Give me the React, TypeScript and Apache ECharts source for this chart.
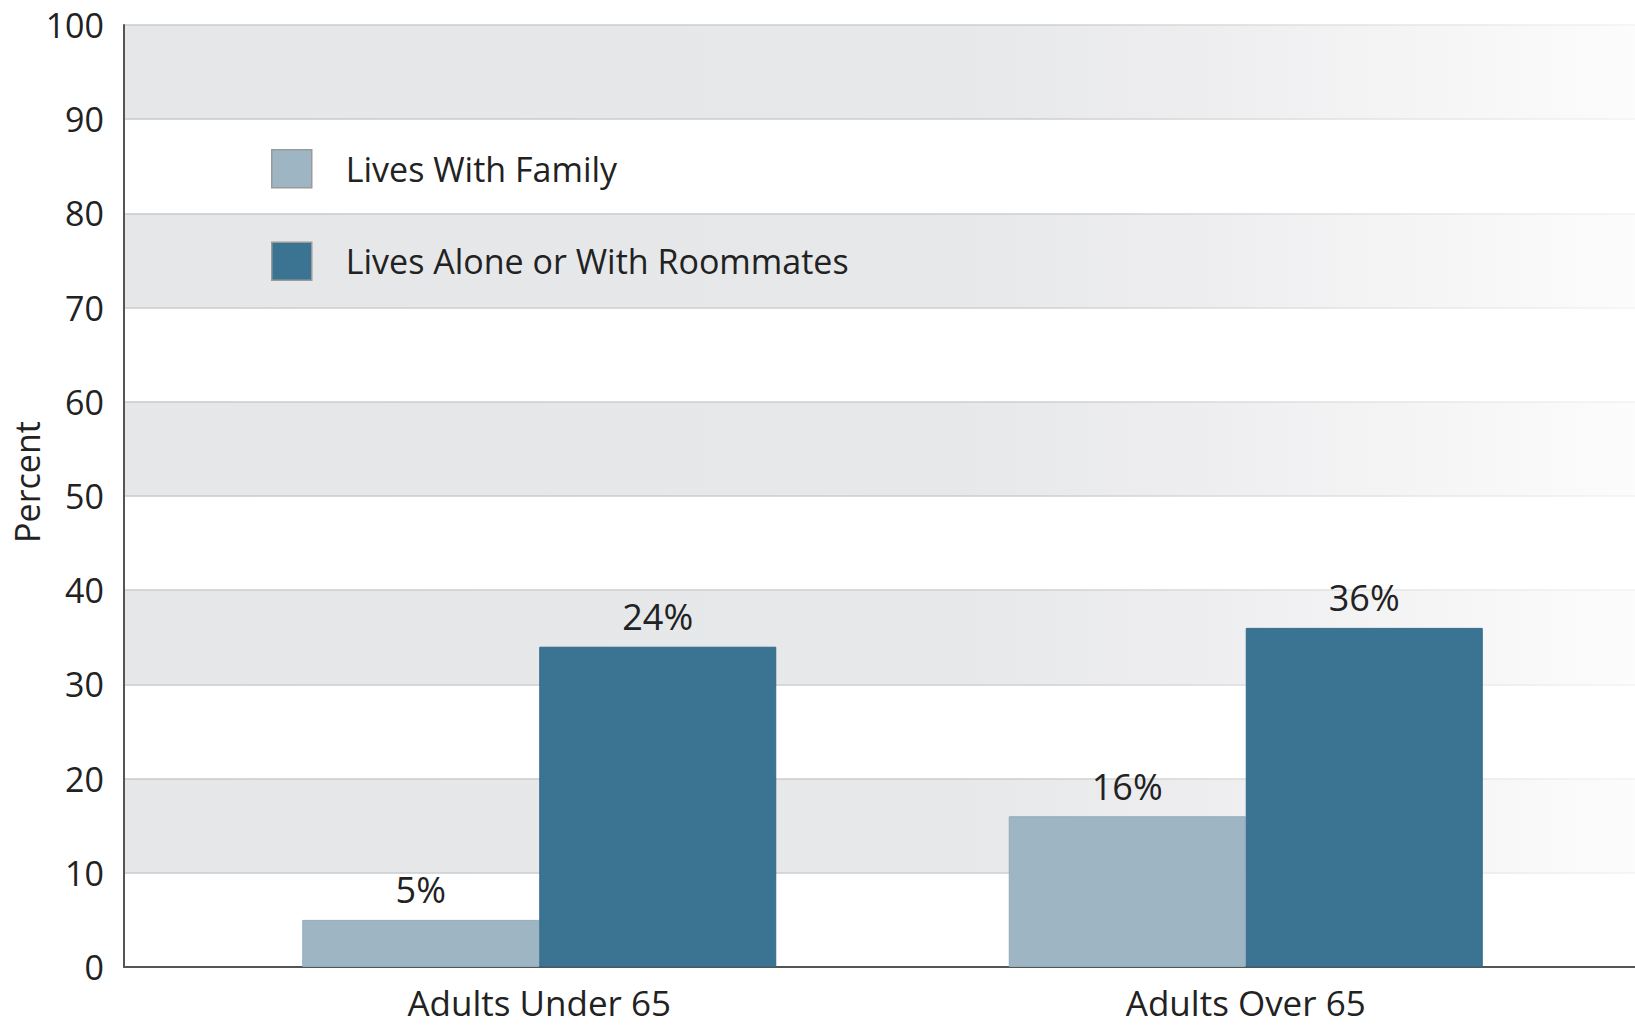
import React, { useEffect, useRef } from "react";
import * as echarts from "echarts";

const categories = ["Adults Under 65", "Adults Over 65"];
const seriesNames = ["Lives With Family", "Lives Alone or With Roommates"];
const livesWithFamily = [5, 16];
const livesAloneOrRoommates = [34, 36];
const familyLabels = ["5%", "16%"];
const aloneLabels = ["24%", "36%"];
const yMin = 0;
const yMax = 100;
const yInterval = 10;
const yAxisTitle = "Percent";

const FONT = "'Open Sans', 'Liberation Sans', Arial, sans-serif";
const TEXT = "#222222";
const LIGHT = "#9eb6c4";
const DARK = "#3a7492";

export default function App() {
  const ref = useRef<HTMLDivElement>(null);

  useEffect(() => {
    if (!ref.current) return;
    const chart = echarts.init(ref.current, undefined, { renderer: "svg" });

    const bandGray = {
      type: "linear",
      x: 124,
      y: 0,
      x2: 1635,
      y2: 0,
      global: true,
      colorStops: [
        { offset: 0, color: "#e6e7e9" },
        { offset: 0.55, color: "#e7e8ea" },
        { offset: 0.72, color: "#eeeef0" },
        { offset: 1, color: "#fcfcfc" },
      ],
    };
    const lineGray = {
      type: "linear",
      x: 124,
      y: 0,
      x2: 1635,
      y2: 0,
      global: true,
      colorStops: [
        { offset: 0, color: "#c9cacc" },
        { offset: 0.6, color: "#cdcecf" },
        { offset: 1, color: "#f3f3f3" },
      ],
    };

    const option: any = {
      animation: false,
      backgroundColor: "#ffffff",
      textStyle: { fontFamily: FONT, color: TEXT },
      grid: [
        { left: 124, right: 0, top: 25, bottom: 60, containLabel: false },
        { left: 186, right: 36, top: 25, bottom: 60, containLabel: false },
      ],
      legend: {
        orient: "vertical",
        left: 271,
        top: 149,
        padding: 0,
        itemWidth: 40,
        itemHeight: 38,
        itemGap: 53,
        icon: "rect",
        data: seriesNames,
        selectedMode: false,
        itemStyle: { borderColor: "#9a9a9a", borderWidth: 1.5 },
        textStyle: {
          fontFamily: FONT,
          fontSize: 34,
          color: TEXT,
          padding: [0, 0, 0, 29],
        },
      },
      xAxis: [
        {
          type: "category",
          gridIndex: 0,
          data: categories,
          axisLine: { show: true, lineStyle: { color: "#555555", width: 2 } },
          axisTick: { show: false },
          axisLabel: { show: false },
          splitLine: { show: false },
        },
        {
          type: "category",
          gridIndex: 1,
          data: categories,
          axisLine: { show: false },
          axisTick: { show: false },
          axisLabel: {
            show: true,
            fontFamily: FONT,
            fontSize: 35,
            color: TEXT,
            margin: 18,
          },
          splitLine: { show: false },
        },
      ],
      yAxis: [
        {
          type: "value",
          gridIndex: 0,
          min: yMin,
          max: yMax,
          interval: yInterval,
          axisLine: { show: true, lineStyle: { color: "#555555", width: 2 } },
          axisTick: { show: false },
          axisLabel: {
            fontFamily: FONT,
            fontSize: 34,
            color: TEXT,
            margin: 20,
          },
          splitLine: { show: true, lineStyle: { color: lineGray, width: 1.5 } },
          splitArea: {
            show: true,
            areaStyle: { color: ["#ffffff", bandGray] },
          },
        },
        {
          type: "value",
          gridIndex: 1,
          min: yMin,
          max: yMax,
          interval: yInterval,
          show: false,
          splitLine: { show: false },
        },
      ],
      graphic: [
        {
          type: "text",
          x: 27,
          y: 482,
          rotation: Math.PI / 2,
          style: {
            text: yAxisTitle,
            fontFamily: FONT,
            fontSize: 34,
            fill: TEXT,
            textAlign: "center",
            textVerticalAlign: "middle",
          },
        },
      ],
      series: [
        {
          name: seriesNames[0],
          type: "bar",
          xAxisIndex: 1,
          yAxisIndex: 1,
          data: livesWithFamily,
          barWidth: 237,
          barGap: "0%",
          itemStyle: { color: LIGHT, borderColor: "#93abba", borderWidth: 1 },
          label: {
            show: true,
            position: "top",
            distance: 12,
            fontFamily: FONT,
            fontSize: 36,
            color: TEXT,
            formatter: (p: any) => familyLabels[p.dataIndex],
          },
        },
        {
          name: seriesNames[1],
          type: "bar",
          xAxisIndex: 1,
          yAxisIndex: 1,
          data: livesAloneOrRoommates,
          barWidth: 237,
          barGap: "0%",
          itemStyle: { color: DARK, borderColor: "#35698a", borderWidth: 1 },
          label: {
            show: true,
            position: "top",
            distance: 12,
            fontFamily: FONT,
            fontSize: 36,
            color: TEXT,
            formatter: (p: any) => aloneLabels[p.dataIndex],
          },
        },
      ],
    };

    chart.setOption(option);
    return () => chart.dispose();
  }, []);

  return (
    <div
      ref={ref}
      style={{ position: "fixed", left: 0, top: 0, width: 1635, height: 1027 }}
    />
  );
}
